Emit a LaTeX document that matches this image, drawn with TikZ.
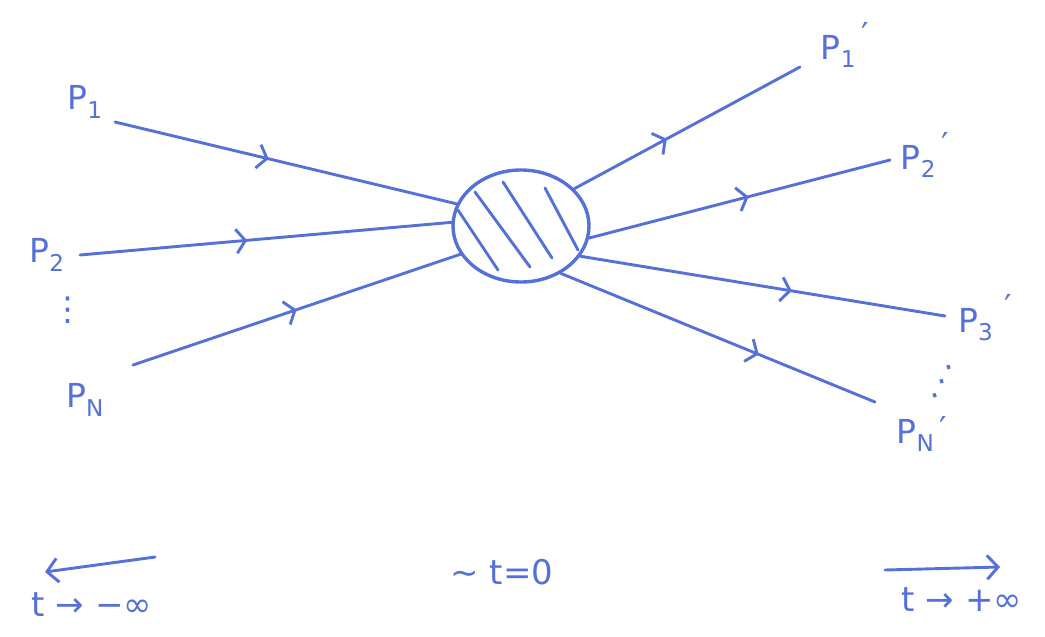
\documentclass[tikz,border=0pt]{standalone}
\usepackage{fontspec}
\setmainfont{DejaVu Sans}
\usetikzlibrary{arrows.meta,decorations.markings,shapes.geometric}
\definecolor{ink}{RGB}{85,112,215}
\newcommand{\pr}[1][0.4em]{\raisebox{#1}{′}}
\begin{document}
\begin{tikzpicture}[x=1pt,y=-1pt,
  inkline/.style={draw=ink, line width=2.9pt, line cap=round},
  flow/.style={inkline, postaction={decorate}, decoration={markings, mark=at position #1 with {\arrow{Straight Barb[length=9pt,width=24pt]}}}},
  flow/.default=0.5,
  lab/.style={text=ink, font=\fontsize{33}{36}\selectfont, inner sep=0pt},
  tlab/.style={text=ink, font=\fontsize{34}{38}\selectfont, inner sep=0pt},
  timearrow/.style={inkline, -{Straight Barb[length=11pt,width=24pt]}}]
\useasboundingbox (0,0) rectangle (1045,637);
% scattering region
\node[draw=ink, line width=3.4pt, ellipse, minimum width=136pt, minimum height=112pt, inner sep=0pt] (blob) at (521,226) {};
\draw[inkline] (458,210) -- (498,270);
\draw[inkline] (475,192) -- (530,267);
\draw[inkline] (503,182) -- (552,258);
\draw[inkline] (545,188) -- (578,250);
% incoming labels
\node[lab] (p1) at (85,102) {P\textsubscript{1}};
\node[lab] (p2) at (47,255) {P\textsubscript{2}};
\node[lab] (vd) at (68,310) {⋮};
\node[lab] (pn) at (85,400) {P\textsubscript{N}};
% outgoing labels
\node[lab] (q1) at (845,45) {P\textsubscript{1}\,\pr};
\node[lab] (q2) at (925,155) {P\textsubscript{2}\,\pr};
\node[lab] (q3) at (985,318) {P\textsubscript{3}\,\,\pr};
\node[lab, rotate=18] (dd) at (942,382) {⋰};
\node[lab] (qn) at (922,434) {P\textsubscript{N}\,\pr[0.1em]};
% line ends
\coordinate (a1) at (115,122);
\coordinate (a2) at (80,255);
\coordinate (an) at (133,365);
\coordinate (b1) at (800,67);
\coordinate (b2) at (890,160);
\coordinate (b3) at (945,316);
\coordinate (bn) at (875,402);
% incoming
\draw[flow=0.45] (a1) -- (blob.161);
\draw[flow=0.45] (a2) -- (blob.177);
\draw[flow=0.5] (an) -- (blob.205);
% outgoing
\draw[flow=0.41] (blob.35) -- (b1);
\draw[flow=0.53] (blob.350) -- (b2);
\draw[flow=0.58] (blob.333) -- (b3);
\draw[flow=0.63] (blob.310) -- (bn);
% time axis
\coordinate (l1) at (155,557);
\coordinate (l2) at (45,572);
\coordinate (r1) at (885,570);
\coordinate (r2) at (1000,567);
\draw[timearrow] (l1) -- (l2);
\draw[timearrow] (r1) -- (r2);
\node[tlab] (tm) at (92,605) {t → −∞};
\node[tlab] (t0) at (502,572) {∼ t=0};
\node[tlab] (tp) at (962,600) {t → +∞};
\end{tikzpicture}
\end{document}
